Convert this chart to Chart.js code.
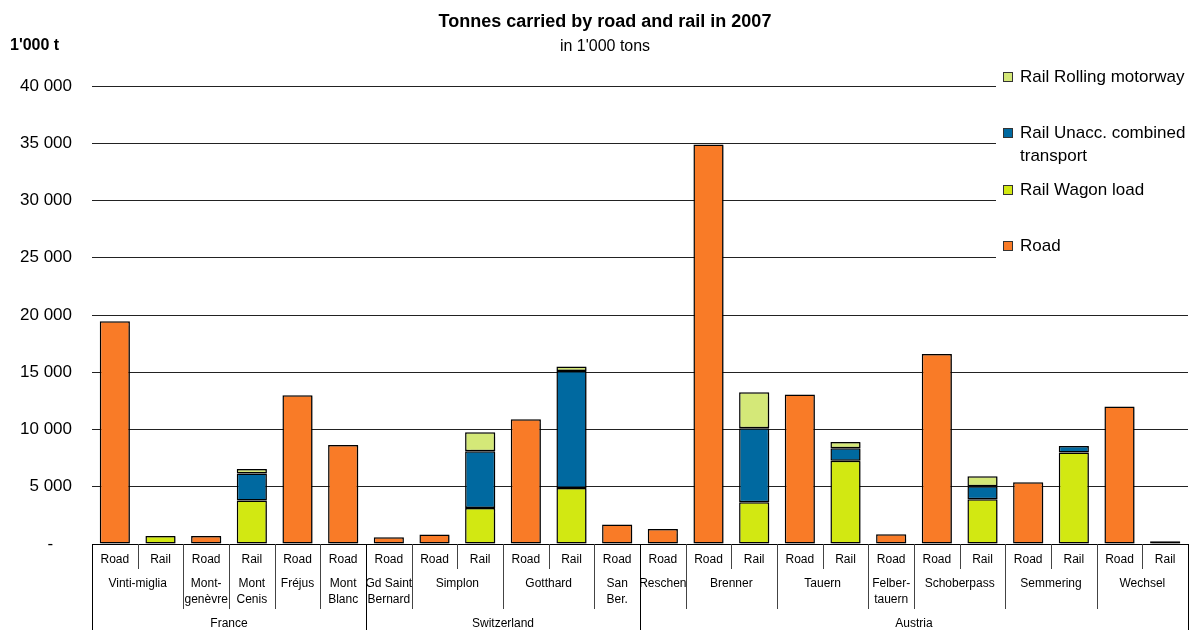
<!DOCTYPE html>
<html>
<head>
<meta charset="utf-8">
<title>Tonnes carried by road and rail in 2007</title>
<script src="https://cdn.jsdelivr.net/npm/chart.js@4/dist/chart.umd.min.js"></script>
<style>
  html, body { margin: 0; padding: 0; background: #fff; }
  #wrap { width: 1193px; height: 630px; position: relative; }
</style>
</head>
<body>
<div id="wrap"><canvas id="chart"></canvas></div>
<script>
// Bottom row: one label per column
const typeLabels = ['Road', 'Rail', 'Road', 'Rail', 'Road', 'Road', 'Road', 'Road', 'Rail', 'Road', 'Rail', 'Road',
  'Road', 'Road', 'Rail', 'Road', 'Rail', 'Road', 'Road', 'Rail', 'Road', 'Rail', 'Road', 'Rail'];

// Pass names and how many columns each covers
const passNames = [['Vinti-miglia'], ['Mont-', 'genèvre'], ['Mont', 'Cenis'], ['Fréjus'], ['Mont', 'Blanc'],
  ['Gd Saint', 'Bernard'], ['Simplon'], ['Gotthard'], ['San', 'Ber.'], ['Reschen'], ['Brenner'], ['Tauern'],
  ['Felber-', 'tauern'], ['Schoberpass'], ['Semmering'], ['Wechsel']];
const passSpans = [2, 1, 1, 1, 1, 1, 2, 2, 1, 1, 2, 2, 1, 2, 2, 2];

const countries = ['France', 'Switzerland', 'Austria'];
const countrySpans = [6, 6, 12];

// 1'000 tonnes
const road = [19450, null, 700, null, 13000, 8650, 600, 820, null, 10900, null, 1700,
  1300, 34900, null, 13050, null, 850, 16600, null, 5400, null, 12000, null];
const wagonLoad = [null, 700, null, 3800, null, null, null, null, 3150, null, 4900, null,
  null, null, 3650, null, 7270, null, null, 3900, null, 8000, null, null];
const unaccompanied = [null, null, null, 2350, null, null, null, null, 4950, null, 10200, null,
  null, null, 6450, null, 1100, null, null, 1150, null, 550, null, 250];
const rollingMotorway = [null, null, null, 400, null, null, null, null, 1650, null, 400, null,
  null, null, 3150, null, 530, null, null, 870, null, null, null, null];

const yTicks = [0, 5000, 10000, 15000, 20000, 25000, 30000, 35000, 40000];

const colors = {
  road: '#f97b27',
  wagon: '#d2e812',
  unacc: '#0069a0',
  rolling: '#d4e878'
};

const FONT = '"Liberation Sans", Arial, sans-serif';

function fmt(v) {
  if (v === 0) return '-    ';
  return String(v).replace(/\B(?=(\d{3})+(?!\d))/g, ' ');
}

// soft drop shadow under the bars
const barShadow = {
  id: 'barShadow',
  beforeDatasetsDraw(chart) {
    const ctx = chart.ctx;
    ctx.save();
    ctx.shadowColor = 'rgba(0,0,0,0.25)';
    ctx.shadowOffsetX = 2;
    ctx.shadowOffsetY = 1;
    ctx.shadowBlur = 1;
  },
  afterDatasetsDraw(chart) {
    chart.ctx.restore();
  }
};

// titles, grouped category axis and legend box
const decorations = {
  id: 'decorations',
  afterDraw(chart) {
    const ctx = chart.ctx;
    const x = chart.scales.x;
    const area = chart.chartArea;
    const step = x.getPixelForValue(1) - x.getPixelForValue(0);
    const edge = i => x.getPixelForValue(i) - step / 2;
    const base = area.bottom;

    ctx.save();
    ctx.fillStyle = '#000';
    ctx.textBaseline = 'middle';

    // titles
    ctx.textAlign = 'center';
    ctx.font = 'bold 18px ' + FONT;
    ctx.fillText('Tonnes carried by road and rail in 2007', 605, 22);
    ctx.font = '16px ' + FONT;
    ctx.fillText("in 1'000 tons", 605, 47);
    ctx.textAlign = 'left';
    ctx.font = 'bold 16px ' + FONT;
    ctx.fillText("1'000 t", 10, 46);

    // axis line
    ctx.strokeStyle = '#000';
    ctx.lineWidth = 1;
    ctx.beginPath();
    ctx.moveTo(area.left, base + 0.5);
    ctx.lineTo(area.right, base + 0.5);
    ctx.stroke();

    const vline = (px, y2, color) => {
      ctx.strokeStyle = color;
      ctx.beginPath();
      ctx.moveTo(Math.round(px) + 0.5, base);
      ctx.lineTo(Math.round(px) + 0.5, y2);
      ctx.stroke();
    };

    // column separators
    for (let i = 1; i < typeLabels.length; i++) vline(edge(i), base + 25, '#444');
    // pass separators
    let idx = 0;
    passSpans.forEach(s => { idx += s; if (idx < typeLabels.length) vline(edge(idx), base + 65, '#444'); });
    // country separators and outer edges
    vline(edge(0), 630, '#000');
    idx = 0;
    countrySpans.forEach(s => { idx += s; vline(edge(idx), 630, '#000'); });

    ctx.textAlign = 'center';
    ctx.font = '12px ' + FONT;
    typeLabels.forEach((t, i) => ctx.fillText(t, x.getPixelForValue(i), base + 16));

    idx = 0;
    passNames.forEach((lines, k) => {
      const cx = (edge(idx) + edge(idx + passSpans[k])) / 2;
      lines.forEach((ln, j) => ctx.fillText(ln, cx, base + 40 + j * 16));
      idx += passSpans[k];
    });

    idx = 0;
    countries.forEach((c, k) => {
      const cx = (edge(idx) + edge(idx + countrySpans[k])) / 2;
      ctx.fillText(c, cx, base + 80);
      idx += countrySpans[k];
    });

    // legend box
    ctx.fillStyle = '#fff';
    ctx.fillRect(996, 62, 197, 206);
    const items = [
      { label: ['Rail Rolling motorway'], color: colors.rolling, y: 77 },
      { label: ['Rail Unacc. combined', 'transport'], color: colors.unacc, y: 133 },
      { label: ['Rail Wagon load'], color: colors.wagon, y: 190 },
      { label: ['Road'], color: colors.road, y: 246 }
    ];
    ctx.textAlign = 'left';
    ctx.font = '17px ' + FONT;
    items.forEach(it => {
      ctx.fillStyle = it.color;
      ctx.fillRect(1003.5, it.y - 4.5, 9, 9);
      ctx.strokeStyle = '#333';
      ctx.strokeRect(1003.5, it.y - 4.5, 9, 9);
      ctx.fillStyle = '#000';
      it.label.forEach((ln, j) => ctx.fillText(ln, 1020, it.y + j * 23));
    });
    ctx.restore();
  }
};

const barOpts = { borderColor: '#000', borderWidth: 1.5, borderSkipped: false, barPercentage: 0.66, categoryPercentage: 1.0 };

new Chart(document.getElementById('chart'), {
  type: 'bar',
  data: {
    labels: typeLabels,
    datasets: [
      { label: 'Road', data: road, backgroundColor: colors.road, ...barOpts },
      { label: 'Rail Wagon load', data: wagonLoad, backgroundColor: colors.wagon, ...barOpts },
      { label: 'Rail Unacc. combined transport', data: unaccompanied, backgroundColor: colors.unacc, ...barOpts },
      { label: 'Rail Rolling motorway', data: rollingMotorway, backgroundColor: colors.rolling, ...barOpts }
    ]
  },
  options: {
    responsive: true,
    maintainAspectRatio: false,
    animation: false,
    layout: { padding: { top: 86, bottom: 86, left: 0, right: 5 } },
    plugins: {
      legend: { display: false },
      title: { display: false },
      tooltip: { enabled: false }
    },
    scales: {
      x: {
        stacked: true,
        display: false,
        grid: { display: false }
      },
      y: {
        stacked: true,
        min: 0,
        max: 40000,
        afterBuildTicks(scale) { scale.ticks = yTicks.map(v => ({ value: v })); },
        afterFit(scale) { scale.width = 92; },
        border: { display: false },
        grid: { color: '#222', lineWidth: 1, drawTicks: false },
        ticks: {
          padding: 20,
          color: '#000',
          font: { family: FONT, size: 17 },
          callback: v => fmt(v)
        }
      }
    }
  },
  plugins: [barShadow, decorations]
});
</script>
</body>
</html>
